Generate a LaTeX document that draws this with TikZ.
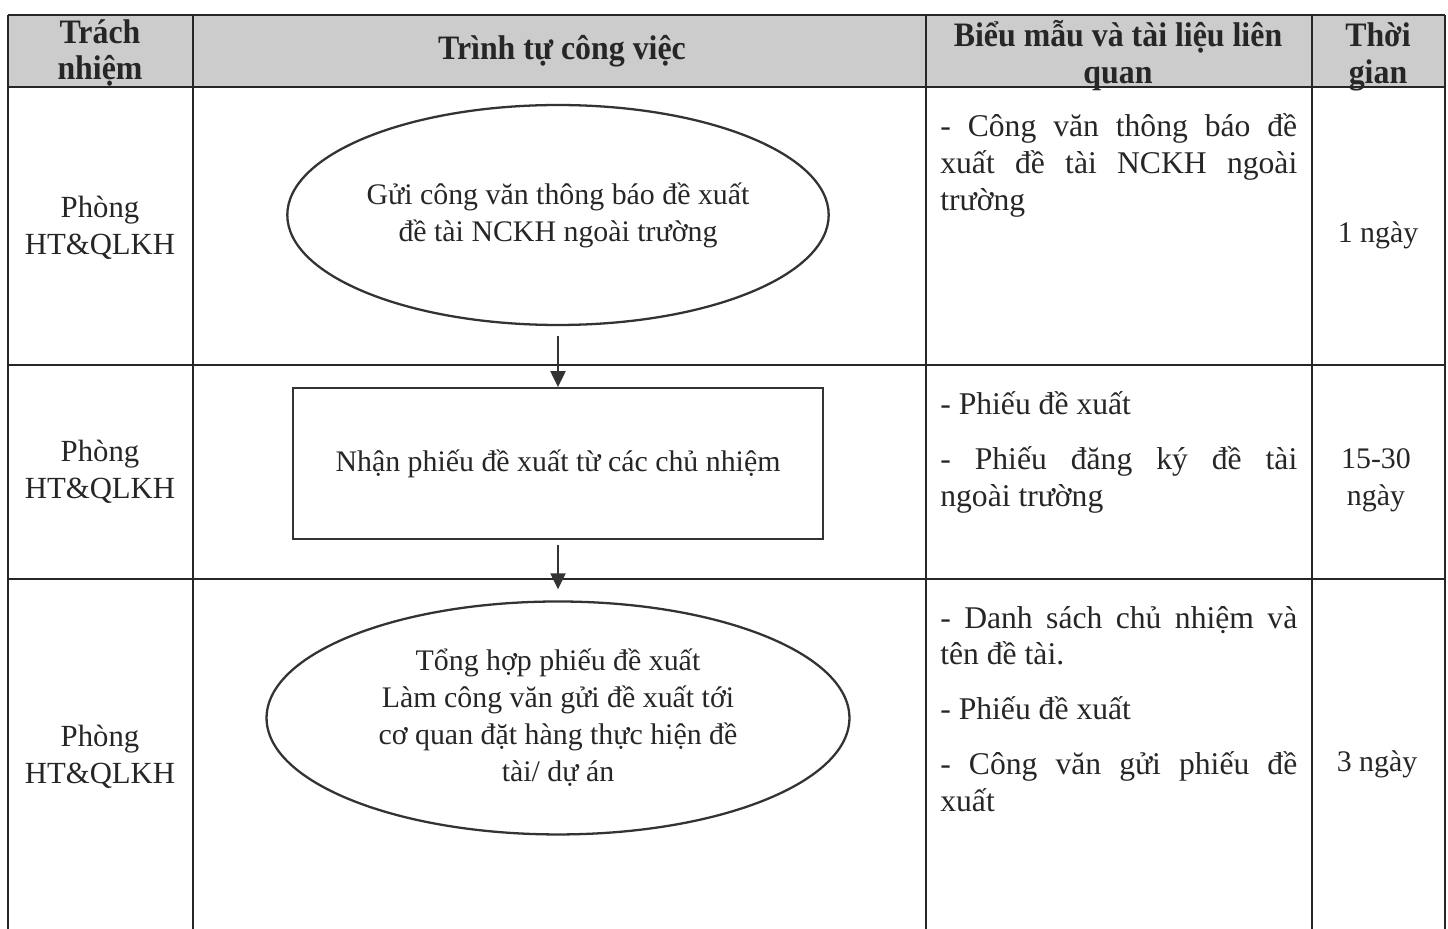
\documentclass[tikz,border=0pt]{standalone}
\usepackage{fontspec}
\setmainfont{Liberation Serif}
\newfontfamily\headfont[FakeStretch=0.93]{Liberation Serif}
\usetikzlibrary{arrows.meta,shapes.geometric,positioning}
\hyphenpenalty=10000

\begin{document}
\begin{tikzpicture}[
    x=0.02cm, y=-0.02cm,
    node distance=1.22cm,
    line/.style={draw=black!85, line width=1pt},
    head/.style={align=center, inner sep=0pt, text=black!85,
                 font=\headfont\bfseries\fontsize{19.5}{21}\selectfont},
    who/.style={align=center, inner sep=0pt, text=black!85,
                font=\fontsize{17.5}{21}\selectfont},
    dur/.style={align=center, inner sep=0pt, text=black!85,
                font=\fontsize{17}{21}\selectfont},
    term/.style={ellipse, draw=black!80, line width=1.3pt, inner sep=0pt,
                 align=center, text=black!85, font=\fontsize{17}{21}\selectfont},
    proc/.style={rectangle, draw=black!80, line width=1.3pt, inner sep=0pt,
                 align=center, text=black!85, font=\fontsize{17}{21}\selectfont},
    doc/.style={anchor=base west, text width=7.14cm, align=justify, inner sep=0pt,
                text=black!85, font=\fontsize{18}{21}\selectfont},
    arr/.style={-{Triangle[length=0.32cm,width=0.3cm]}, draw=black!80, line width=1.2pt}
]
\useasboundingbox (0,0) rectangle (1448,929);

% table
\fill[black!20] (8,15) rectangle (1445,87);
\foreach \x in {8,193,926,1312,1445}
  \draw[line] (\x,15) -- (\x,929);
\foreach \y in {15,87,365,579}
  \draw[line] (8,\y) -- (1445,\y);

% header
\node[head] (h1) at (100,53) {Trách\\nhiệm};
\node[head] (h2) at (562,51) {Trình tự công việc};
\node[head] (h3) at (1118,56) {Biểu mẫu và tài liệu liên\\quan};
\node[head] (h4) at (1378,57) {Thời\\gian};

% who
\node[who] (w1) at (100,228) {Phòng\\HT\&QLKH};
\node[who] (w2) at (100,472) {Phòng\\HT\&QLKH};
\node[who] (w3) at (100,757) {Phòng\\HT\&QLKH};

% flow
\node[term, minimum width=10.82cm, minimum height=4.4cm] (e1) at (558,215)
  {Gửi công văn thông báo đề xuất\\ đề tài NCKH ngoài trường};
\node[proc, below=of e1, minimum width=10.6cm, minimum height=3.02cm] (b2)
  {Nhận phiếu đề xuất từ các chủ nhiệm};
\node[term, below=1.2cm of b2, minimum width=11.66cm, minimum height=4.66cm] (e3)
  {Tổng hợp phiếu đề xuất\\Làm công văn gửi đề xuất tới\\cơ quan đặt hàng thực hiện đề\\tài/ dự án};

\draw[arr, shorten <=0.2cm] (e1) -- (b2);
\draw[arr, shorten <=0.1cm, shorten >=0.22cm] (b2) -- (e3);

% documents
\node[doc] (d1) at (940,137)
  {- Công văn thông báo đề\linebreak xuất đề tài NCKH ngoài\linebreak trường};
\node[doc] (d2) at (940,415)
  {- Phiếu đề xuất\par\vspace{0.36cm}- Phiếu đăng ký đề tài\linebreak ngoài trường};
\node[doc] (d3) at (940,628)
  {- Danh sách chủ nhiệm và\linebreak tên đề tài.\par\vspace{0.36cm}- Phiếu đề xuất\par\vspace{0.36cm}- Công văn gửi phiếu đề\linebreak xuất};

% time
\node[dur] (t1) at (1378,235) {1 ngày};
\node[dur] (t2) at (1376,480) {15-30\\ngày};
\node[dur] (t3) at (1377,764) {3 ngày};
\end{tikzpicture}
\end{document}
